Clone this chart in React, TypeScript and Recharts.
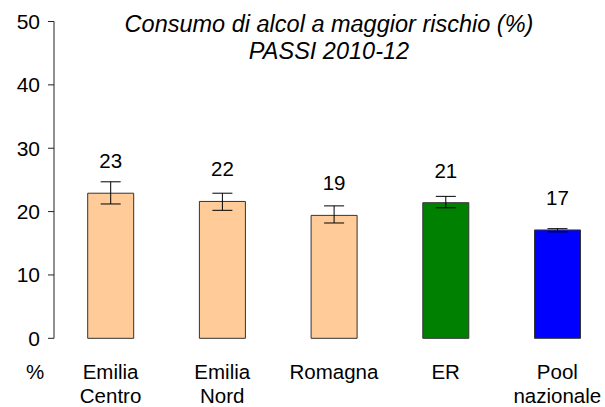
import React from "react";
import { BarChart, Bar, XAxis, YAxis, Cell, ErrorBar, LabelList } from "recharts";

const categories = ["Emilia\nCentro", "Emilia\nNord", "Romagna", "ER", "Pool\nnazionale"];
const values = [22.9, 21.6, 19.4, 21.4, 17.1];
const lower = [21.2, 20.2, 18.2, 20.6, 16.8];
const upper = [24.7, 22.9, 20.9, 22.4, 17.3];
const valueLabels = ["23", "22", "19", "21", "17"];
const colors = ["#FFCC99", "#FFCC99", "#FFCC99", "#008000", "#0000FF"];
const yTicks = [0, 10, 20, 30, 40, 50];
const titleLines = ["Consumo di alcol a maggior rischio (%)", "PASSI 2010-12"];

const data = categories.map((c, i) => ({
  name: c,
  value: values[i],
  err: [values[i] - lower[i], upper[i] - values[i]],
  label: valueLabels[i],
}));

const FONT = "'Liberation Sans', Arial, Helvetica, sans-serif";

const XTick = (props: any) => {
  const { x, y, payload } = props;
  const lines = String(payload.value).split("\n");
  return (
    <g>
      {lines.map((l: string, i: number) => (
        <text key={i} x={x} y={y + 41 + i * 24} textAnchor="middle" fontSize={20.5} fontFamily={FONT} fill="#000">
          {l}
        </text>
      ))}
    </g>
  );
};

const PercentLabel = (props: any) => {
  const vb = props.viewBox || {};
  return (
    <text x={vb.x + 35} y={vb.y + vb.height + 41} textAnchor="middle" fontSize={20.5} fontFamily={FONT} fill="#000">
      %
    </text>
  );
};

const ValueLabel = (props: any) => {
  const { x, y, width, value } = props;
  return (
    <text x={x + width / 2} y={y - 25} textAnchor="middle" fontSize={20.5} fontFamily={FONT} fill="#000">
      {value}
    </text>
  );
};

export default function App() {
  return (
    <div style={{ position: "absolute", left: 0, top: 0, width: 605, height: 407, background: "#fff", overflow: "hidden" }}>
      <BarChart
        width={605}
        height={407}
        data={data}
        margin={{ top: 21.5, right: 0, bottom: 38.7, left: 0 }}
        barSize={46}
      >
        <XAxis
          dataKey="name"
          height={30}
          axisLine={false}
          tickLine={false}
          tickSize={0}
          tickMargin={0}
          interval={0}
          tick={<XTick />}
          padding={{ left: 0.7, right: -8.2 }}
        />
        <YAxis
          width={54}
          domain={[0, 50]}
          ticks={yTicks}
          interval={0}
          tickSize={6}
          tickMargin={8}
          axisLine={{ stroke: "#222", strokeWidth: 1 }}
          tickLine={{ stroke: "#222", strokeWidth: 1 }}
          tick={{ fontSize: 21, fontFamily: FONT, fill: "#000" }}
          label={<PercentLabel />}
        />
        <Bar dataKey="value" stroke="#333" strokeWidth={1} isAnimationActive={false}>
          {data.map((d, i) => (
            <Cell key={i} fill={colors[i]} />
          ))}
          <ErrorBar dataKey="err" width={10} stroke="#000" strokeWidth={1} />
          <LabelList dataKey="label" content={<ValueLabel />} />
        </Bar>
      </BarChart>
      <svg width={605} height={407} style={{ position: "absolute", left: 0, top: 0, pointerEvents: "none" }}>
        {titleLines.map((t, i) => (
          <text key={i} x={329} y={31.7 + i * 27.6} textAnchor="middle" fontSize={23.5} fontStyle="italic" fontFamily={FONT} fill="#000">
            {t}
          </text>
        ))}
      </svg>
    </div>
  );
}
